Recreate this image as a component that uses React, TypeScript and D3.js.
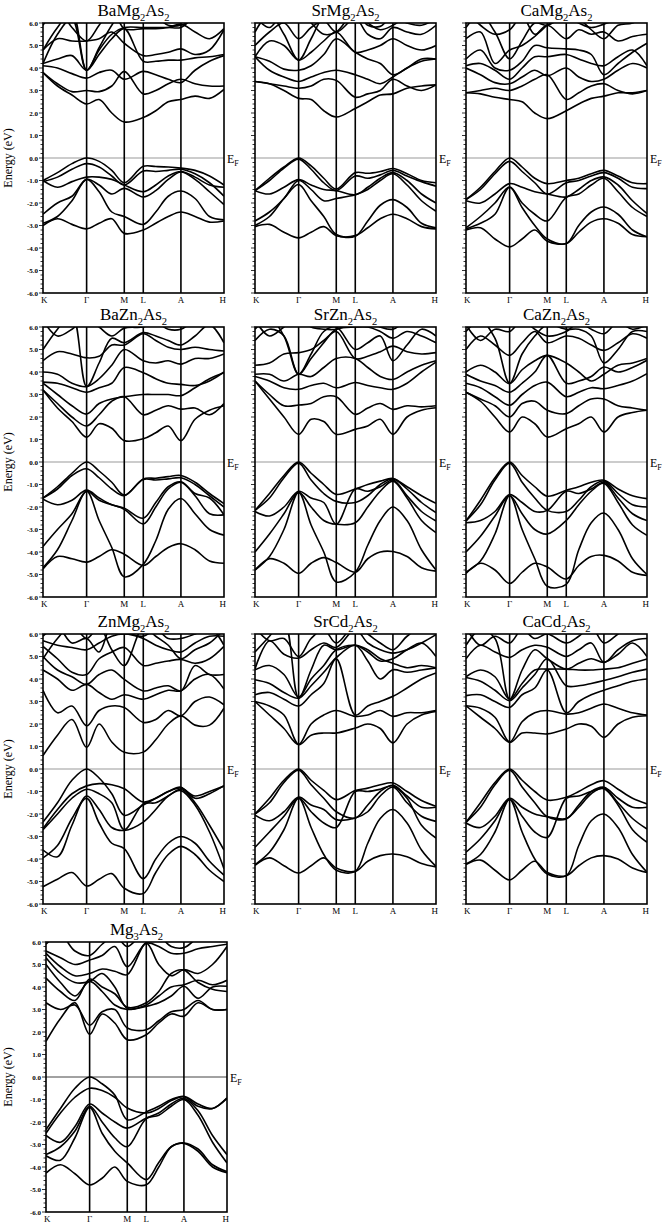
import React from 'react';
import * as d3 from 'd3';

// k-path sample positions (fraction of the path K-Γ-M-L-A-H)
const KPTS = [0, 0.08, 0.16, 0.241, 0.31, 0.38, 0.449, 0.554, 0.623, 0.692, 0.762, 0.84, 0.92, 1];
const SYM_LABELS = ['K', 'Γ', 'M', 'L', 'A', 'H'];
const SYM_POS = [0, 0.241, 0.449, 0.554, 0.762, 1];
const Y_LABELS = [6, 5, 4, 3, 2, 1, 0, -1, -2, -3, -4, -5, -6];

const TITLES = [
  'BaMg2As2', 'SrMg2As2', 'CaMg2As2',
  'BaZn2As2', 'SrZn2As2', 'CaZn2As2',
  'ZnMg2As2', 'SrCd2As2', 'CaCd2As2',
  'Mg3As2',
];

// band energies (eV) at KPTS
const baMg2As2 = [
  [-1.0, -0.65, -0.25, 0.0, -0.15, -0.55, -1.1, -0.37, -0.38, -0.4, -0.45, -0.55, -0.8, -1.2],
  [-1.05, -0.85, -0.5, -0.25, -0.4, -0.8, -1.2, -0.58, -0.6, -0.55, -0.5, -0.7, -1.1, -1.7],
  [-1.0, -1.3, -1.05, -0.85, -0.85, -0.95, -1.2, -1.5, -1.2, -0.8, -0.6, -0.85, -1.2, -1.3],
  [-2.5, -2.0, -1.7, -0.95, -1.2, -1.6, -1.35, -1.73, -1.45, -0.95, -0.62, -0.95, -1.5, -2.07],
  [-2.9, -2.6, -1.9, -0.95, -1.5, -2.4, -2.6, -2.95, -2.4, -1.7, -1.47, -1.8, -2.6, -2.75],
  [-3.0, -2.7, -2.95, -3.15, -2.9, -2.7, -3.35, -3.2, -2.9, -2.6, -2.4, -2.6, -2.85, -2.8],
  [3.8, 3.2, 2.8, 2.4, 2.6, 2.0, 1.6, 1.8, 2.1, 2.5, 2.6, 2.75, 2.65, 3.05],
  [3.8, 3.3, 2.95, 3.0, 2.95, 3.2, 3.85, 2.85, 3.0, 3.3, 3.5, 3.3, 3.2, 3.2],
  [4.1, 4.0, 3.75, 3.55, 3.8, 3.9, 3.5, 3.85, 3.7, 3.5, 3.35, 3.9, 4.3, 4.55],
  [4.2, 4.4, 4.55, 3.9, 4.6, 5.3, 5.75, 4.3, 4.3, 4.35, 4.35, 4.45, 4.5, 4.6],
  [4.8, 5.3, 5.2, 5.2, 5.3, 5.6, 5.1, 4.55, 4.6, 4.7, 4.85, 4.6, 4.8, 5.7],
  [4.2, 5.5, 6.2, 3.9, 4.8, 5.5, 5.8, 5.8, 5.8, 5.8, 5.8, 6.3, 6.5, 6.5],
  [4.8, 5.8, 6.5, 3.9, 4.9, 5.9, 6.6, 6.6, 6.3, 5.9, 5.9, 6.2, 6.4, 6.5],
  [5.9, 6.6, 5.8, 5.2, 5.9, 6.6, 5.75, 5.75, 5.75, 5.8, 5.95, 5.6, 5.3, 5.75],
];

const srMg2As2 = [
  [-1.45, -0.9, -0.4, 0.0, -0.35, -0.9, -1.38, -0.65, -0.68, -0.6, -0.47, -0.7, -1.0, -1.1],
  [-1.45, -1.0, -0.45, -0.05, -0.5, -1.1, -1.45, -0.8, -0.9, -0.75, -0.55, -0.8, -1.05, -1.25],
  [-1.45, -1.6, -1.3, -0.96, -1.2, -1.4, -1.45, -1.63, -1.3, -0.9, -0.65, -1.0, -1.6, -2.0],
  [-2.8, -2.4, -1.8, -1.0, -1.4, -1.9, -1.8, -1.63, -1.4, -1.0, -0.7, -1.2, -1.9, -2.37],
  [-3.0, -2.6, -1.8, -1.18, -1.9, -2.6, -3.4, -3.48, -2.8, -2.1, -1.85, -2.2, -2.9, -3.1],
  [-3.05, -2.95, -3.3, -3.55, -3.3, -3.05, -3.45, -3.45, -3.1, -2.7, -2.5, -2.7, -3.05, -3.15],
  [3.4, 3.3, 3.0, 2.65, 2.6, 2.1, 1.82, 2.2, 2.5, 2.8, 2.85, 3.1, 3.2, 3.25],
  [3.4, 3.3, 3.2, 3.1, 3.2, 3.5, 3.45, 2.7, 2.85, 3.0, 3.5, 3.2, 3.0, 3.25],
  [4.5, 3.9, 3.6, 3.4, 3.6, 3.8, 3.9, 3.7, 3.5, 3.3, 3.6, 4.0, 4.3, 4.4],
  [4.5, 4.3, 3.95, 3.9, 4.1, 4.6, 5.3, 4.7, 4.4, 4.2, 3.7, 4.0, 4.4, 4.4],
  [4.5, 5.2, 5.0, 4.35, 4.7, 5.2, 5.6, 4.7, 4.8, 5.0, 5.3, 5.0, 4.8, 5.0],
  [5.0, 5.6, 6.0, 5.3, 5.8, 6.1, 5.6, 6.2, 5.5, 5.3, 5.8, 5.6, 5.5, 5.9],
  [5.6, 6.4, 5.5, 4.35, 5.3, 6.3, 6.5, 6.4, 6.0, 5.7, 5.9, 6.3, 6.5, 6.5],
  [6.3, 5.8, 6.5, 6.5, 6.0, 5.5, 5.6, 6.5, 5.9, 5.85, 6.3, 6.0, 5.9, 6.2],
];

const caMg2As2 = [
  [-1.85, -1.3, -0.6, 0.0, -0.4, -0.9, -1.14, -1.0, -0.9, -0.7, -0.55, -0.8, -1.1, -1.14],
  [-1.85, -1.4, -0.7, -0.15, -0.6, -1.1, -1.6, -1.1, -1.0, -0.8, -0.65, -0.9, -1.3, -1.36],
  [-1.9, -2.0, -1.6, -1.14, -1.3, -1.5, -1.6, -1.73, -1.4, -1.0, -0.84, -1.2, -1.9, -2.47],
  [-3.1, -2.6, -2.0, -1.29, -2.0, -2.5, -2.8, -1.75, -1.6, -1.2, -0.9, -1.5, -2.2, -2.6],
  [-3.15, -2.9, -2.5, -1.3, -2.2, -3.0, -3.6, -3.8, -3.0, -2.4, -2.18, -2.5, -3.2, -3.5],
  [-3.2, -3.1, -3.6, -3.95, -3.6, -3.2, -3.7, -3.8, -3.3, -2.85, -2.7, -2.9, -3.4, -3.5],
  [2.9, 2.85, 2.7, 2.6, 2.5, 2.0, 1.75, 2.1, 2.4, 2.65, 2.75, 2.9, 2.9, 3.0],
  [2.9, 3.0, 3.1, 3.0, 3.2, 3.5, 3.7, 2.6, 2.9, 3.2, 3.3, 3.0, 2.85, 3.0],
  [4.0, 3.7, 3.35, 3.3, 3.6, 3.9, 3.65, 4.0, 3.6, 3.4, 3.5, 3.9, 4.2, 4.0],
  [4.1, 4.2, 3.9, 3.5, 4.0, 4.5, 4.5, 4.6, 4.4, 4.2, 4.1, 4.5, 4.8, 4.1],
  [4.4, 4.8, 4.0, 3.9, 4.3, 5.0, 4.9, 4.85, 4.8, 4.6, 3.7, 4.2, 4.7, 5.1],
  [5.3, 5.6, 4.2, 4.8, 5.0, 5.4, 5.9, 5.3, 5.7, 5.5, 5.6, 5.2, 5.4, 5.5],
  [5.8, 6.4, 5.6, 4.4, 5.2, 6.0, 5.9, 6.3, 6.0, 5.8, 5.95, 6.2, 6.5, 6.5],
  [6.5, 5.9, 5.5, 5.7, 6.3, 5.5, 5.9, 6.4, 6.2, 5.7, 5.3, 5.9, 6.0, 6.4],
];

const baZn2As2 = [
  [-1.6, -1.1, -0.5, 0.0, -0.4, -0.9, -1.47, -0.75, -0.72, -0.65, -0.6, -0.9, -1.4, -1.85],
  [-1.6, -1.2, -0.6, -0.3, -0.7, -1.2, -1.5, -0.78, -0.8, -0.75, -0.7, -1.0, -1.5, -2.0],
  [-1.65, -1.9, -1.7, -1.25, -1.6, -1.9, -2.05, -2.5, -1.8, -1.1, -0.88, -1.4, -1.6, -2.35],
  [-3.75, -3.0, -2.3, -1.3, -1.7, -1.9, -2.1, -2.75, -2.0, -1.2, -0.9, -1.5, -2.3, -2.35],
  [-4.7, -3.9, -2.6, -1.3, -2.6, -3.8, -5.1, -4.55, -3.5, -2.1, -1.62, -2.3, -3.0, -3.25],
  [-4.75, -4.2, -4.3, -4.45, -4.2, -3.9, -4.1, -4.6, -4.2, -3.8, -3.63, -3.9, -4.4, -4.5],
  [3.2, 2.4, 1.8, 1.1, 1.7, 1.5, 0.95, 1.03, 1.3, 1.6, 0.95, 1.9, 2.3, 2.5],
  [3.2, 2.6, 2.0, 1.6, 2.1, 2.7, 2.9, 2.1, 2.3, 2.5, 2.35, 2.4, 2.1, 2.6],
  [3.5, 3.0, 2.5, 2.13, 2.6, 2.8, 2.9, 3.0, 3.0, 3.0, 2.95, 3.3, 3.7, 3.97],
  [3.55, 3.5, 3.3, 3.1, 3.3, 3.5, 4.2, 3.97, 3.7, 3.5, 3.45, 3.4, 3.6, 4.0],
  [4.0, 3.9, 3.5, 3.35, 3.7, 4.3, 5.0, 4.5, 4.4, 4.5, 4.35, 4.6, 4.6, 4.8],
  [4.5, 4.9, 4.8, 4.63, 4.7, 5.2, 5.2, 5.7, 5.4, 5.1, 5.0, 5.1, 5.0, 4.93],
  [5.0, 5.9, 6.6, 3.35, 4.4, 5.5, 5.3, 5.75, 5.6, 5.4, 5.2, 5.6, 6.1, 5.3],
  [6.3, 5.6, 5.9, 6.4, 6.0, 5.6, 5.95, 6.0, 6.2, 5.9, 5.9, 6.3, 6.5, 6.5],
];

const srZn2As2 = [
  [-2.15, -1.4, -0.6, 0.0, -0.5, -1.0, -1.44, -1.2, -1.0, -0.85, -0.73, -1.1, -1.5, -1.84],
  [-2.15, -1.6, -0.7, -0.05, -0.8, -1.4, -1.75, -1.8, -1.5, -1.0, -0.75, -1.2, -1.8, -2.25],
  [-2.2, -2.4, -2.0, -1.3, -1.6, -1.8, -2.77, -1.2, -1.3, -1.1, -0.8, -1.5, -2.2, -2.62],
  [-4.0, -3.2, -2.3, -1.35, -2.0, -2.6, -2.77, -2.7, -2.0, -1.3, -0.85, -1.6, -2.6, -3.14],
  [-4.8, -4.2, -3.0, -1.35, -2.8, -4.0, -5.33, -4.9, -3.7, -2.6, -2.0, -2.6, -3.9, -4.8],
  [-4.8, -4.3, -4.5, -4.95, -4.5, -4.25, -4.47, -4.9, -4.3, -4.0, -3.98, -4.2, -4.7, -4.85],
  [3.6, 2.8, 2.0, 1.23, 1.9, 1.8, 1.23, 1.45, 1.6, 1.9, 1.23, 2.0, 2.3, 2.41],
  [3.6, 3.0, 2.5, 2.53, 2.6, 2.9, 2.9, 2.12, 2.4, 2.6, 2.34, 2.5, 2.45, 2.5],
  [3.8, 3.6, 3.3, 3.23, 3.4, 3.5, 3.3, 3.53, 3.4, 3.3, 3.23, 3.5, 4.0, 4.44],
  [3.9, 3.9, 3.6, 3.9, 3.8, 4.2, 4.6, 4.6, 4.2, 3.8, 3.67, 4.0, 4.3, 4.5],
  [4.3, 4.4, 4.8, 4.86, 5.0, 5.4, 5.8, 4.6, 4.7, 4.9, 5.15, 4.9, 4.8, 4.86],
  [5.4, 5.9, 5.6, 3.9, 4.6, 5.3, 5.9, 6.0, 6.0, 5.8, 5.5, 5.8, 5.6, 5.3],
  [5.9, 6.4, 5.6, 3.9, 4.8, 5.8, 6.0, 5.0, 5.3, 5.6, 4.5, 5.2, 5.9, 5.6],
  [6.3, 5.6, 6.0, 6.5, 6.0, 5.9, 5.9, 6.2, 6.3, 6.0, 5.9, 6.3, 6.5, 6.3],
];

const caZn2As2 = [
  [-2.62, -1.7, -0.7, 0.0, -0.6, -1.1, -1.52, -1.26, -1.1, -0.9, -0.81, -1.2, -1.5, -1.63],
  [-2.62, -1.9, -0.8, -0.05, -0.9, -1.6, -2.15, -2.2, -1.7, -1.1, -0.85, -1.4, -1.9, -2.0],
  [-2.7, -2.6, -2.2, -1.45, -1.8, -2.2, -2.15, -1.3, -1.4, -1.2, -0.9, -1.6, -2.3, -2.6],
  [-4.0, -3.3, -2.4, -1.5, -2.3, -3.0, -3.2, -2.6, -1.9, -1.3, -0.95, -1.8, -2.8, -3.26],
  [-4.9, -4.4, -3.2, -1.5, -3.0, -4.3, -5.52, -5.44, -3.9, -2.7, -2.27, -3.0, -4.3, -5.0],
  [-4.95, -4.5, -4.8, -5.4, -4.9, -4.5, -4.67, -5.2, -4.6, -4.2, -4.15, -4.4, -4.9, -5.04],
  [3.1, 2.7, 2.0, 1.33, 2.0, 1.7, 1.11, 1.48, 1.7, 2.0, 1.33, 2.0, 2.2, 2.3],
  [3.1, 2.8, 2.5, 2.0, 2.6, 2.7, 2.3, 2.15, 2.5, 2.8, 2.8, 2.5, 2.4, 2.3],
  [3.5, 3.3, 2.9, 2.52, 3.0, 3.4, 3.55, 2.9, 3.1, 3.3, 3.26, 3.4, 3.6, 3.93],
  [3.9, 3.6, 3.4, 3.1, 3.5, 4.0, 4.74, 3.5, 3.6, 3.8, 4.22, 4.0, 4.2, 4.52],
  [4.0, 4.3, 4.0, 3.48, 4.1, 4.5, 4.74, 4.4, 4.0, 3.6, 3.9, 4.3, 4.4, 4.6],
  [5.0, 5.6, 5.2, 4.74, 5.3, 5.8, 5.3, 5.6, 5.5, 5.2, 4.96, 5.3, 5.7, 5.5],
  [5.8, 6.3, 5.5, 3.5, 4.8, 5.6, 6.1, 5.9, 5.9, 5.6, 4.4, 5.0, 5.8, 5.8],
  [6.1, 5.4, 5.9, 5.8, 6.3, 5.9, 5.6, 5.8, 6.2, 5.9, 5.7, 6.2, 5.9, 6.1],
];

const znMg2As2 = [
  [-2.36, -1.5, -0.5, 0.0, -0.4, -1.1, -2.06, -1.6, -1.3, -1.0, -0.81, -1.3, -1.1, -0.74],
  [-2.65, -1.8, -1.1, -0.75, -0.65, -0.7, -0.88, -1.47, -1.3, -1.0, -0.85, -1.2, -1.0, -0.76],
  [-2.7, -2.0, -1.3, -0.9, -1.1, -1.5, -2.7, -1.55, -1.5, -1.2, -0.9, -1.5, -2.5, -3.6],
  [-3.6, -3.9, -2.5, -1.2, -1.8, -2.6, -2.73, -2.36, -1.8, -1.2, -0.96, -1.6, -2.8, -4.43],
  [-3.95, -3.4, -2.2, -1.3, -2.4, -3.3, -3.54, -4.87, -4.0, -3.3, -3.0, -3.3, -4.1, -4.72],
  [-5.23, -4.9, -4.6, -5.2, -4.9, -4.65, -5.3, -5.53, -4.6, -3.8, -3.44, -3.8, -4.5, -5.0],
  [0.6, 1.5, 2.2, 0.96, 2.0, 1.2, 0.74, 0.75, 1.3, 2.0, 2.36, 1.95, 1.95, 2.7],
  [3.5, 2.5, 2.8, 1.92, 2.6, 2.8, 2.73, 2.07, 2.2, 2.6, 2.36, 3.0, 3.2, 2.85],
  [4.4, 4.0, 3.5, 3.76, 3.4, 3.1, 3.3, 3.1, 3.3, 3.5, 3.47, 4.0, 4.2, 3.55],
  [5.0, 4.4, 4.1, 3.76, 4.2, 4.4, 3.98, 3.47, 3.6, 3.7, 3.47, 4.6, 4.2, 4.2],
  [5.45, 4.9, 4.3, 4.2, 4.9, 5.2, 5.4, 4.6, 4.7, 4.8, 4.87, 4.7, 4.9, 5.45],
  [5.7, 5.5, 5.4, 5.3, 5.6, 5.9, 6.0, 5.8, 5.5, 5.3, 5.2, 5.6, 5.9, 5.9],
  [4.9, 5.8, 6.4, 5.8, 6.3, 5.3, 4.6, 6.3, 5.9, 5.5, 4.9, 5.3, 5.6, 6.2],
  [5.9, 6.3, 5.6, 5.8, 5.2, 6.4, 6.1, 5.9, 6.2, 5.8, 5.8, 6.0, 6.3, 5.5],
];

const srCd2As2 = [
  [-2.0, -1.3, -0.5, 0.0, -0.5, -0.95, -1.36, -0.96, -0.85, -0.7, -0.62, -1.0, -1.4, -1.66],
  [-2.0, -1.5, -0.6, -0.05, -0.7, -1.3, -1.9, -2.18, -1.6, -1.0, -0.72, -1.2, -1.7, -1.7],
  [-2.05, -2.3, -1.9, -1.25, -1.6, -1.8, -2.25, -2.18, -1.9, -1.2, -0.8, -1.5, -2.1, -2.33],
  [-3.48, -2.8, -2.1, -1.3, -1.9, -2.4, -2.6, -1.0, -1.0, -0.9, -0.75, -1.3, -2.5, -3.07],
  [-4.25, -3.7, -2.7, -1.3, -2.6, -3.8, -4.5, -4.55, -3.3, -2.2, -1.8, -2.4, -3.6, -4.33],
  [-4.28, -3.95, -4.3, -4.62, -4.3, -3.95, -4.4, -4.55, -4.1, -3.85, -3.78, -3.9, -4.2, -4.35],
  [3.0, 2.4, 1.8, 1.08, 1.5, 1.6, 1.6, 1.82, 2.0, 1.8, 1.16, 2.0, 2.4, 2.56],
  [3.0, 2.8, 2.4, 1.1, 2.0, 2.4, 2.6, 2.34, 2.4, 2.6, 2.34, 2.5, 2.5, 2.6],
  [3.3, 3.4, 3.1, 2.8, 3.3, 3.8, 4.9, 2.4, 2.8, 3.0, 3.23, 3.6, 4.0, 4.27],
  [3.97, 3.8, 3.4, 3.15, 3.7, 4.3, 4.95, 5.5, 4.8, 4.0, 4.41, 4.3, 4.4, 4.49],
  [4.41, 4.6, 4.2, 3.2, 4.0, 4.6, 5.3, 5.5, 5.3, 4.9, 4.7, 4.5, 4.6, 4.5],
  [4.45, 5.7, 5.1, 4.93, 5.3, 5.6, 5.4, 6.2, 5.6, 5.3, 5.15, 5.3, 5.6, 5.97],
  [5.2, 5.9, 6.6, 3.15, 4.4, 5.5, 5.3, 5.5, 5.2, 4.8, 4.9, 5.3, 5.6, 5.0],
  [6.3, 5.7, 5.8, 5.0, 5.8, 6.2, 5.6, 6.4, 6.0, 5.6, 5.3, 5.9, 6.3, 6.2],
];

const caCd2As2 = [
  [-2.37, -1.5, -0.6, 0.0, -0.5, -1.0, -1.38, -1.26, -1.0, -0.7, -0.52, -0.9, -1.3, -1.55],
  [-2.37, -1.7, -0.7, -0.05, -0.8, -1.5, -2.12, -2.22, -1.6, -1.0, -0.81, -1.3, -1.7, -1.7],
  [-2.4, -2.6, -2.1, -1.3, -1.7, -2.0, -2.12, -2.2, -1.7, -1.1, -0.85, -1.5, -2.2, -2.67],
  [-3.7, -3.1, -2.3, -1.35, -2.1, -2.8, -3.04, -1.3, -1.2, -1.0, -0.88, -1.6, -2.7, -3.26],
  [-4.22, -3.8, -2.8, -1.35, -2.8, -4.0, -4.67, -4.74, -3.4, -2.3, -2.0, -2.6, -3.8, -4.59],
  [-4.25, -4.05, -4.5, -4.93, -4.5, -4.1, -4.6, -4.74, -4.3, -3.95, -3.85, -4.0, -4.4, -4.6],
  [2.81, 2.3, 1.8, 1.18, 1.6, 1.6, 1.56, 1.78, 2.0, 1.9, 1.41, 2.0, 2.3, 2.37],
  [2.81, 2.7, 2.3, 1.2, 2.1, 2.5, 2.6, 2.44, 2.5, 2.7, 2.89, 2.7, 2.5, 2.4],
  [3.26, 3.3, 3.0, 2.74, 3.3, 3.6, 4.4, 2.5, 3.0, 3.3, 3.5, 3.7, 3.9, 4.0],
  [4.07, 3.9, 3.5, 3.04, 3.6, 4.2, 4.9, 3.7, 3.7, 3.8, 3.93, 4.1, 4.3, 4.44],
  [4.1, 4.4, 4.1, 3.1, 3.8, 4.4, 4.44, 4.44, 4.4, 4.4, 4.44, 4.5, 4.7, 4.89],
  [4.9, 5.5, 5.2, 4.96, 5.3, 5.5, 5.41, 5.0, 5.3, 5.6, 4.74, 5.3, 5.7, 5.8],
  [5.5, 6.2, 5.8, 3.1, 4.4, 5.3, 4.9, 4.44, 4.7, 4.9, 4.74, 5.1, 5.6, 5.0],
  [6.3, 5.5, 5.9, 5.6, 6.2, 5.8, 6.0, 5.6, 5.9, 6.3, 5.6, 6.0, 6.4, 6.2],
];

const mg3As2 = [
  [-2.34, -1.4, -0.5, 0.0, -0.3, -0.8, -1.9, -1.55, -1.3, -1.0, -0.86, -1.2, -1.4, -0.93],
  [-2.5, -1.6, -0.9, -0.5, -0.6, -0.9, -1.38, -1.6, -1.4, -1.05, -0.88, -1.3, -1.4, -0.95],
  [-2.6, -2.9, -2.2, -1.2, -1.6, -2.0, -2.27, -1.82, -1.6, -1.2, -0.95, -1.5, -2.6, -3.45],
  [-3.45, -3.1, -2.4, -1.3, -2.0, -2.7, -3.1, -1.85, -1.7, -1.3, -1.0, -1.7, -2.9, -3.82],
  [-3.5, -3.7, -2.7, -1.35, -2.5, -3.3, -3.82, -4.56, -3.8, -3.1, -2.93, -3.2, -3.9, -4.2],
  [-4.27, -3.9, -4.3, -4.8, -4.5, -4.0, -4.64, -4.79, -4.0, -3.1, -2.95, -3.3, -4.0, -4.25],
  [1.58, 2.6, 3.3, 1.9, 2.8, 2.4, 1.66, 1.88, 2.4, 2.8, 2.7, 3.3, 3.0, 3.0],
  [3.3, 3.0, 3.2, 2.3, 2.9, 3.0, 2.18, 2.1, 2.5, 2.9, 3.0, 3.4, 3.0, 3.0],
  [5.0, 4.2, 3.6, 4.25, 3.8, 3.2, 3.0, 3.14, 3.3, 3.6, 4.03, 3.5, 4.0, 4.03],
  [5.3, 4.6, 4.2, 4.25, 4.6, 4.0, 3.05, 3.2, 3.6, 4.0, 4.1, 4.3, 4.1, 4.3],
  [5.5, 4.9, 4.5, 4.6, 4.8, 4.7, 4.55, 5.95, 5.0, 4.5, 4.77, 4.6, 5.0, 5.8],
  [5.6, 5.3, 5.0, 5.2, 5.4, 5.8, 4.9, 5.95, 5.8, 5.5, 5.5, 5.7, 5.8, 5.9],
  [5.9, 6.3, 5.6, 5.4, 5.9, 6.3, 5.8, 6.5, 6.3, 5.8, 5.75, 6.2, 6.5, 6.3],
  [4.4, 3.8, 3.4, 4.35, 4.0, 3.7, 3.1, 3.3, 3.8, 4.6, 4.75, 4.2, 3.9, 3.8],
];

const BANDS = [
  baMg2As2, srMg2As2, caMg2As2,
  baZn2As2, srZn2As2, caZn2As2,
  znMg2As2, srCd2As2, caCd2As2,
  mg3As2,
];

const COL_X = [43, 255, 466];
const ROW_Y = [23, 327, 634, 942];
const PW = 181;
const PH = 270;
const FONT = '"Liberation Serif", "Times New Roman", serif';

function Formula({ text, x, y, size }: { text: string; x: number; y: number; size: number }) {
  const parts = text.match(/[A-Za-z]+|\d+/g) || [];
  let shifted = false;
  return (
    <text x={x} y={y} textAnchor="middle" fontSize={size} fontFamily={FONT}>
      {parts.map((p, i) => {
        const isSub = /\d/.test(p);
        let dy = 0;
        if (isSub && !shifted) { dy = size * 0.28; shifted = true; }
        else if (!isSub && shifted) { dy = -size * 0.28; shifted = false; }
        return (
          <tspan key={i} dy={dy} fontSize={isSub ? size * 0.62 : size}>{p}</tspan>
        );
      })}
    </text>
  );
}

function Panel({ idx }: { idx: number }) {
  const col = idx % 3;
  const row = Math.floor(idx / 3);
  const x0 = row === 3 ? 46 : COL_X[col];
  const top = ROW_Y[row];
  const x = d3.scaleLinear([0, 1], [x0, x0 + PW]);
  const y = d3.scaleLinear([-6, 6], [top + PH, top]);
  const line = d3
    .line<number>()
    .x((_, i) => x(KPTS[i]))
    .y((d) => y(d))
    .curve(d3.curveCatmullRom.alpha(0.5));
  const clipId = `clip-${idx}`;
  const minor = d3.range(-60, 61, 2).map((v) => v / 10);
  const showLabels = col === 0;

  return (
    <g>
      <defs>
        <clipPath id={clipId}>
          <rect x={x0} y={top} width={PW} height={PH} />
        </clipPath>
      </defs>
      <line x1={x0} x2={x0 + PW} y1={y(0)} y2={y(0)} stroke={idx === 9 ? '#444' : '#999'} strokeWidth={1} />
      <g clipPath={`url(#${clipId})`}>
        {BANDS[idx].map((b, i) => (
          <path key={i} d={line(b) || ''} fill="none" stroke="#000" strokeWidth={1.6} />
        ))}
      </g>
      {SYM_POS.slice(1, 5).map((p, i) => (
        <line key={i} x1={x(p)} x2={x(p)} y1={top} y2={top + PH} stroke="#000" strokeWidth={1.6} />
      ))}
      <rect x={x0} y={top} width={PW} height={PH} fill="none" stroke="#000" strokeWidth={1.6} />
      {minor.map((v, i) => {
        const major = Math.abs(v - Math.round(v)) < 1e-6;
        return (
          <line key={i} x1={x0 - (major ? 4 : 2.5)} x2={x0} y1={y(v)} y2={y(v)} stroke="#000" strokeWidth={0.8} />
        );
      })}
      {showLabels &&
        Y_LABELS.map((v) => (
          <text key={v} x={x0 - 5} y={y(v) + 2.5} textAnchor="end" fontSize={7} fontWeight="bold" fontFamily={FONT}>
            {v.toFixed(1)}
          </text>
        ))}
      {showLabels && (
        <text
          transform={`translate(12, ${top + PH / 2}) rotate(-90)`}
          textAnchor="middle"
          fontSize={12}
          fontFamily={FONT}
        >
          Energy (eV)
        </text>
      )}
      {SYM_LABELS.map((s, i) => (
        <text
          key={s}
          x={i === 0 ? x0 - 2 : i === 5 ? x0 + PW + 2 : x(SYM_POS[i])}
          y={top + PH + 10}
          textAnchor={i === 0 ? 'start' : i === 5 ? 'end' : 'middle'}
          fontSize={9}
          fontFamily={FONT}
        >
          {s}
        </text>
      ))}
      <text x={x0 + PW + 3} y={y(0) + 5} fontSize={12} fontFamily={FONT}>
        E<tspan dy={3} fontSize={8}>F</tspan>
      </text>
      <Formula text={TITLES[idx]} x={x0 + PW / 2} y={top - 7} size={17} />
    </g>
  );
}

export default function App() {
  return (
    <svg
      width={664}
      height={1225}
      style={{ position: 'absolute', left: 0, top: 0, background: '#fff' }}
    >
      {TITLES.map((_, i) => (
        <Panel key={i} idx={i} />
      ))}
    </svg>
  );
}
